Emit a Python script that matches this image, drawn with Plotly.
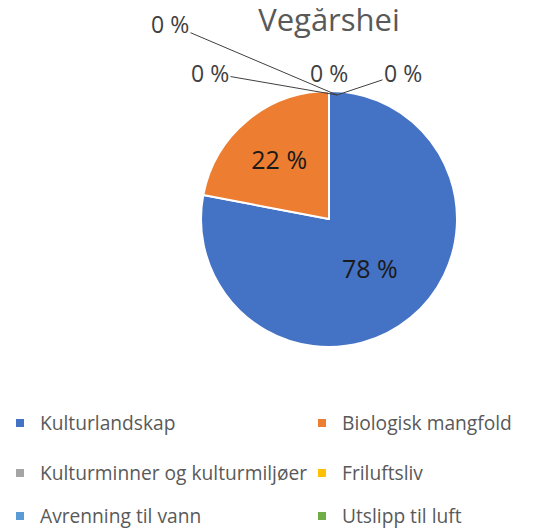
import plotly.graph_objects as go

# data
categories = ['Kulturlandskap', 'Biologisk mangfold', 'Kulturminner og kulturmiljøer',
              'Friluftsliv', 'Avrenning til vann', 'Utslipp til luft']
values = [78, 22, 0, 0, 0, 0]
colors = ['#4472C4', '#ED7D31', '#A5A5A5', '#FFC000', '#5B9BD5', '#70AD47']

W, H = 549, 530
FONT = 'Open Sans'
dom_x = [193 / W, 449 / W]
dom_y = [(H - 339) / H, (H - 83) / H]

fig = go.Figure()

fig.add_trace(
    go.Pie(
        labels=categories,
        values=values,
        sort=False,
        direction='clockwise',
        rotation=0,
        domain=dict(x=dom_x, y=dom_y),
        marker=dict(colors=colors, line=dict(color='white', width=2)),
        texttemplate='%{value:.0f} %',
        textposition='inside',
        insidetextorientation='horizontal',
        insidetextfont=dict(family=FONT, size=25, color='#1a1a1a'),
        showlegend=False,
        hoverinfo='label+percent',
    )
)

# legend entries: one legend per entry, 2 columns x 3 rows
leg_x = [0.0, 302 / W]
leg_y = [(H - 415) / H, (H - 465) / H, (H - 508) / H]
legends = {}
for i, (cat, col) in enumerate(zip(categories, colors)):
    name = 'legend' if i == 0 else 'legend%d' % (i + 1)
    fig.add_trace(
        go.Scatter(
            x=[None], y=[None],
            mode='markers',
            name=cat,
            marker=dict(symbol='square', size=8, color=col),
            legend=name,
            showlegend=True,
        )
    )
    legends[name] = dict(
        x=leg_x[i % 2], y=leg_y[i // 2],
        xanchor='left', yanchor='middle',
        indentation=-8,
        bgcolor='rgba(0,0,0,0)',
        font=dict(family=FONT, size=19.2, color='#595959'),
    )

# zero-value labels with leader lines to the top of the pie
top_x = 329 / W
top_y = (H - 87) / H
zero_offsets = [(-167, -71), (-127, -22), (-8, -22), (66, -22)]
zero_idx = [i for i, v in enumerate(values) if v == 0]
annotations = []
for k, (ax, ay) in zip(zero_idx, zero_offsets):
    annotations.append(dict(
        x=top_x, y=top_y, xref='paper', yref='paper',
        text='%d %%' % values[k],
        showarrow=True, arrowhead=0, arrowwidth=1,
        arrowcolor='#404040' if abs(ax) > 20 else 'rgba(0,0,0,0)',
        ax=ax, ay=ay,
        font=dict(family=FONT, size=23, color='#404040'),
    ))

fig.update_layout(
    width=W, height=H,
    margin=dict(l=0, r=0, t=0, b=0),
    paper_bgcolor='white',
    plot_bgcolor='white',
    xaxis=dict(visible=False),
    yaxis=dict(visible=False),
    title=dict(
        text='Vegårshei',
        x=321 / W, xanchor='center',
        y=1, yanchor='top', yref='container',
        pad=dict(t=1),
        font=dict(family=FONT, size=31, color='#595959'),
    ),
    annotations=annotations,
    **legends,
)

fig.write_html('out.html')
